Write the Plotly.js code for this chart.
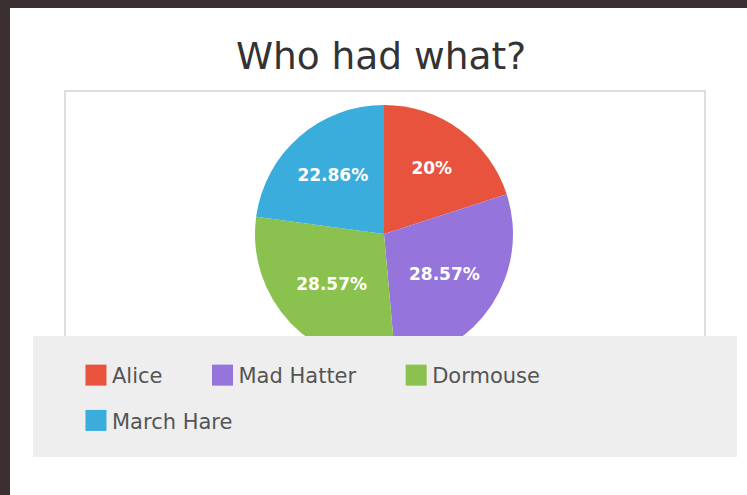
<!DOCTYPE html>
<html>
<head>
<meta charset="utf-8">
<script src="https://cdn.plot.ly/plotly-3.0.1.min.js"></script>
<style>
  html, body { margin: 0; padding: 0; width: 747px; height: 495px; overflow: hidden; background: #3a2f30; }
  #chart { position: absolute; left: 10px; top: 8px; width: 737px; height: 487px; background: #ffffff; }
</style>
</head>
<body>
<div id="chart"></div>
<script>
var chartTitle = 'Who had what?';
var categories = ['Alice', 'Mad Hatter', 'Dormouse', 'March Hare'];
var sliceValues = [20, 28.57, 28.57, 22.86];
var sliceColors = ['#E8533E', '#9575DB', '#8BC14F', '#3AADDC'];

var data = [{
  type: 'pie',
  labels: categories,
  values: sliceValues,
  marker: { colors: sliceColors, line: { width: 0 } },
  sort: false,
  direction: 'clockwise',
  rotation: 0,
  textposition: 'inside',
  insidetextorientation: 'horizontal',
  texttemplate: '%{percent:.2~%}',
  textfont: { family: 'DejaVu Sans', size: 17, color: '#ffffff', weight: 'bold' },
  hoverinfo: 'label+percent',
  domain: { x: [0.3679, 0.8547], y: [0.2710, 0.8008] }
}];

var layout = {
  width: 737,
  height: 487,
  margin: { l: 50, r: 157, t: 0, b: 0 },
  paper_bgcolor: '#ffffff',
  plot_bgcolor: '#ffffff',
  title: {
    text: chartTitle,
    font: { family: 'DejaVu Sans', size: 37.5, color: '#333333' },
    x: 0.5034, xref: 'container', xanchor: 'center',
    y: 0.9014, yref: 'container', yanchor: 'middle'
  },
  showlegend: true,
  legend: {
    orientation: 'h',
    x: 0.0226, xanchor: 'left',
    y: 0.2875, yanchor: 'top',
    bgcolor: 'rgba(0,0,0,0)',
    borderwidth: 0,
    font: { family: 'DejaVu Sans', size: 21, color: '#555555' },
    traceorder: 'normal'
  },
  shapes: [
    { type: 'rect', xref: 'paper', yref: 'paper', x0: 0.00943, x1: 1.2170, y0: 0.308, y1: 0.8296,
      line: { color: '#d4d4d4', width: 1.5 }, fillcolor: 'rgba(0,0,0,0)', layer: 'below' },
    { type: 'rect', xref: 'paper', yref: 'paper', x0: -0.0509, x1: 1.2774, y0: 0.078, y1: 0.3265,
      line: { width: 0 }, fillcolor: '#eeeeee', layer: 'above' }
  ]
};

Plotly.newPlot('chart', data, layout, { staticPlot: true, displayModeBar: false }).then(function (gd) {
  gd.querySelectorAll('.legend .legendpoints path').forEach(function (p) {
    p.setAttribute('transform', (p.getAttribute('transform') || '') + ' translate(4,0) scale(1.75)');
  });
  gd.querySelectorAll('.legend .scrollbox, .legend').forEach(function (s) {
    s.removeAttribute('clip-path');
  });
  var items = Array.prototype.slice.call(gd.querySelectorAll('.legend g.traces'));
  var parsed = items.map(function (g) {
    var m = /translate\(\s*([-\d.e]+)[ ,]+([-\d.e]+)\s*\)/.exec(g.getAttribute('transform') || '');
    var t = g.querySelector('text.legendtext');
    var w = 0;
    try { w = t ? t.getComputedTextLength() : 0; } catch (e) { w = 0; }
    return m ? { g: g, x: parseFloat(m[1]), y: parseFloat(m[2]), w: w } : null;
  }).filter(Boolean);
  if (parsed.length) {
    var minY = Math.min.apply(null, parsed.map(function (o) { return o.y; }));
    var rowStartX = parsed[0].x;
    var prev = null;
    parsed.forEach(function (o) {
      var ny = o.y;
      var nx = o.x;
      if (o.y > minY + 1) {
        ny = o.y + 15;
        if (prev && prev.y <= minY + 1) { nx = rowStartX; prev = null; }
      } else if (prev) {
        nx = prev.nx + prev.w + 76;
      }
      o.nx = nx;
      o.g.setAttribute('transform', 'translate(' + nx + ',' + ny + ')');
      prev = o;
    });
  }
});
</script>
</body>
</html>
